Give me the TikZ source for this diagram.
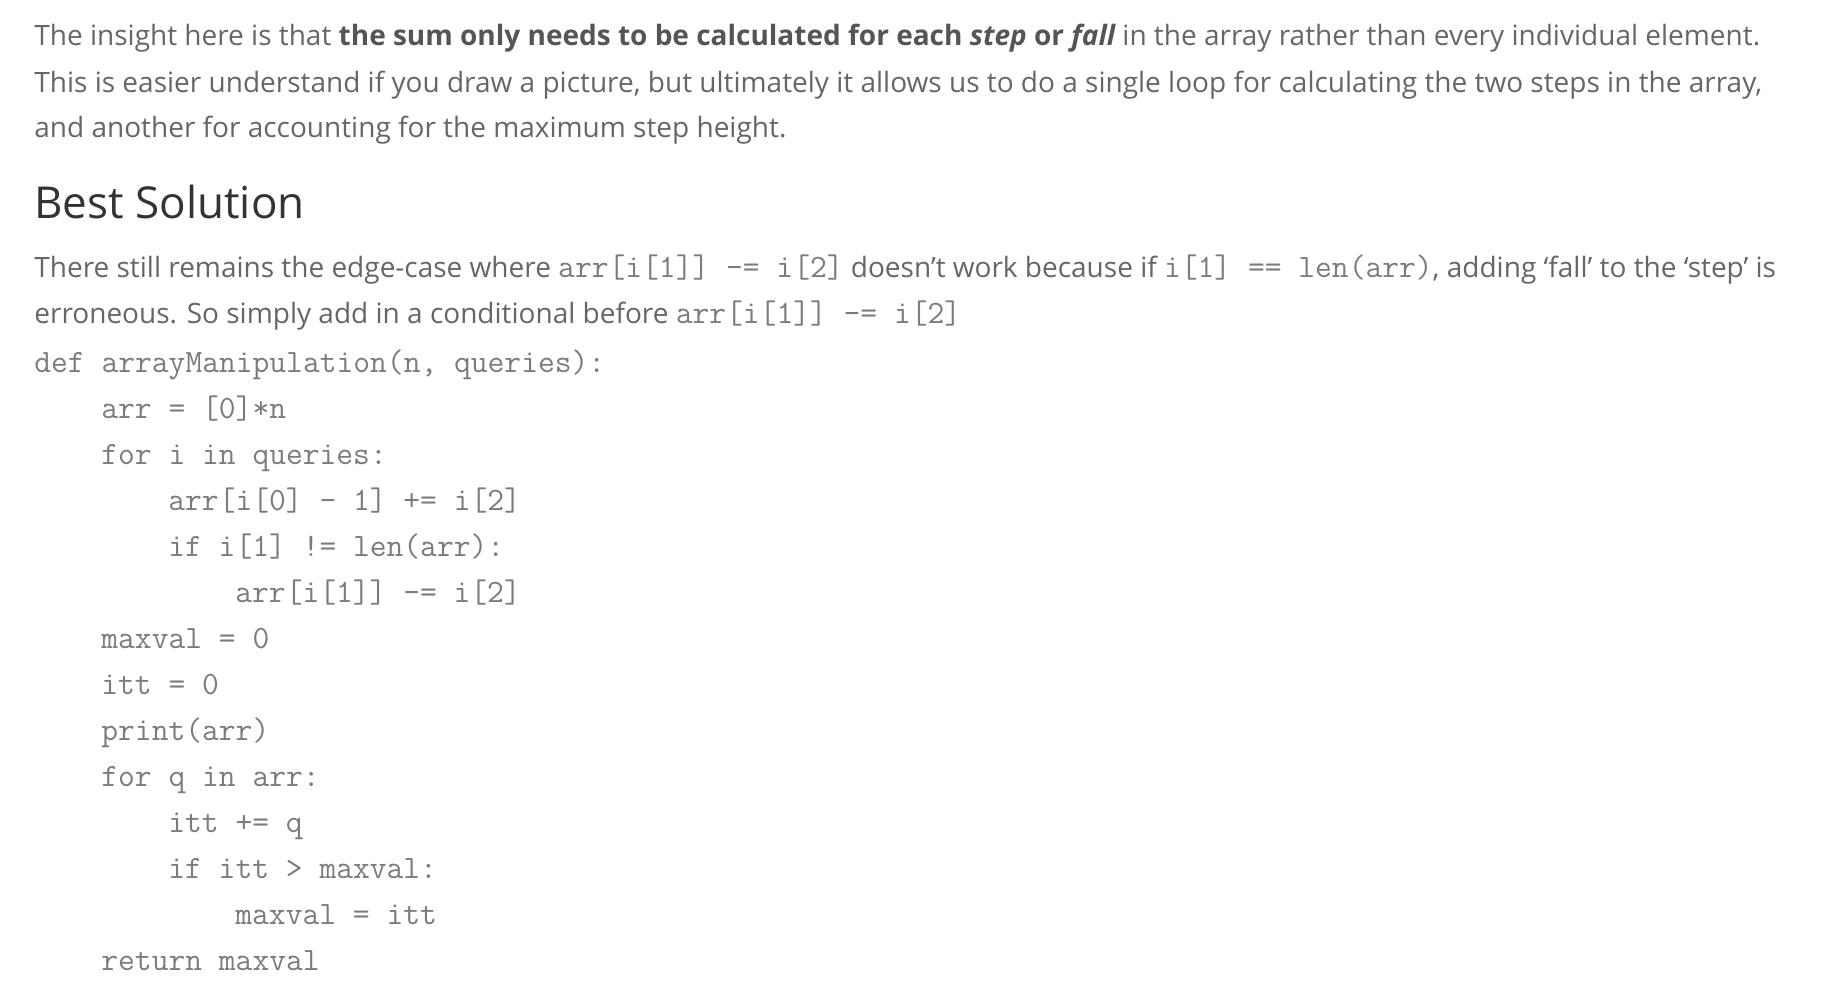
\documentclass[tikz,border=0pt]{standalone}
\usepackage{fontspec}
\setmainfont{Open Sans}
\usetikzlibrary{positioning}
\definecolor{bodygray}{HTML}{666666}
\definecolor{boldgray}{HTML}{555555}
\definecolor{headgray}{HTML}{333333}
\definecolor{codegray}{HTML}{7C7C7C}
\newcommand{\cd}[1]{{\ttfamily\fontsize{16.3}{18}\selectfont\color{codegray}#1}}
\tikzset{
  txt/.style={anchor=base west, inner sep=0pt, text=bodygray, font=\fontsize{14}{16}\selectfont},
  head/.style={anchor=base west, inner sep=0pt, text=headgray, font=\fontsize{22}{26}\selectfont},
  code/.style={anchor=base west, inner sep=0pt, text=codegray, font=\ttfamily\fontsize{16.3}{18}\selectfont}
}
\begin{document}
\begin{tikzpicture}
\useasboundingbox (0,0) rectangle (916pt,-496pt);
\fill[white] (0,0) rectangle (916pt,-496pt);
\node[txt] (p1) at (17pt,-22.5pt) {The insight here is that {\color{boldgray}\bfseries the sum only needs to be calculated for each \itshape step\upshape{} or \itshape fall} in the array rather than every individual element.};
\node[txt] (p2) at (17pt,-46pt) {This is easier understand if you draw a picture, but ultimately it allows us to do a single loop for calculating the two steps in the array,};
\node[txt] (p3) at (17pt,-68.5pt) {and another for accounting for the maximum step height.};
\node[head] (title) at (17pt,-109pt) {Best Solution};
\node[txt] (q1) at (17pt,-138.5pt) {There still remains the edge-case where \cd{arr[i[1]] -= i[2]} doesn’t work because if \cd{i[1] == len(arr)}, adding ‘fall’ to the ‘step’ is};
\node[txt] (q2) at (17pt,-161.5pt) {erroneous. So simply add in a conditional before \cd{arr[i[1]] -= i[2]}};
\node[code] (c1) at (17pt,-186pt) {def arrayManipulation(n, queries):};
\node[code] (c2) at (50.5pt,-209pt) {arr = [0]*n};
\node[code] (c3) at (50.5pt,-232pt) {for i in queries:};
\node[code] (c4) at (84pt,-255pt) {arr[i[0] - 1] += i[2]};
\node[code] (c5) at (84pt,-278pt) {if i[1] != len(arr):};
\node[code] (c6) at (117.5pt,-301pt) {arr[i[1]] -= i[2]};
\node[code] (c7) at (50.5pt,-324pt) {maxval = 0};
\node[code] (c8) at (50.5pt,-347pt) {itt = 0};
\node[code] (c9) at (50.5pt,-370pt) {print(arr)};
\node[code] (c10) at (50.5pt,-393pt) {for q in arr:};
\node[code] (c11) at (84pt,-416pt) {itt += q};
\node[code] (c12) at (84pt,-439pt) {if itt > maxval:};
\node[code] (c13) at (117.5pt,-462pt) {maxval = itt};
\node[code] (c14) at (50.5pt,-485pt) {return maxval};
\end{tikzpicture}
\end{document}
